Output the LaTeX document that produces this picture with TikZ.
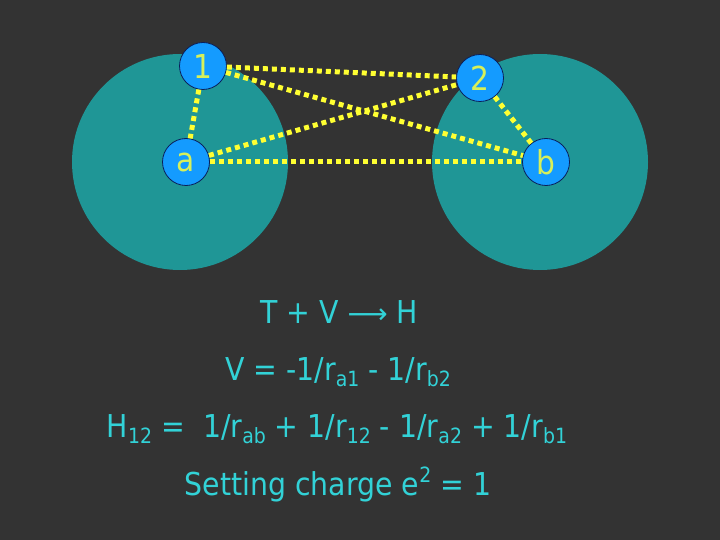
\documentclass[tikz,border=0pt]{standalone}
\usepackage{fontspec}
\setmainfont{DejaVu Sans}
\newfontfamily\eqfont{DejaVu Sans}[FakeStretch=0.9]
\newfontfamily\arrowfont{DejaVu Sans}
\definecolor{bg}{RGB}{51,51,51}
\definecolor{teal1}{RGB}{31,150,150}
\definecolor{blue1}{RGB}{20,155,255}
\definecolor{navy1}{RGB}{10,30,90}
\definecolor{lbl}{RGB}{215,240,90}
\definecolor{dotc}{RGB}{255,255,50}
\definecolor{txt}{RGB}{50,210,215}
\newcommand\lo[1]{\raisebox{-0.4ex}{\fontsize{21}{21}\selectfont #1}}
\newcommand\hi[1]{\raisebox{0.75ex}{\fontsize{21}{21}\selectfont #1}}
\tikzset{
  orbital/.style={circle, fill=teal1, draw=none, minimum size=216pt, inner sep=0pt},
  particle/.style={circle, fill=blue1, draw=navy1, line width=0.8pt, minimum size=47pt, inner sep=0pt, text=lbl, font=\eqfont\fontsize{33}{33}\selectfont},
  bond/.style={dotc, line width=5pt, dash pattern=on 5pt off 4pt},
  eq/.style={text=txt, anchor=base, inner sep=0pt, font=\eqfont\fontsize{31.5}{36}\selectfont}
}
\begin{document}
\begin{tikzpicture}[x=1pt,y=-1pt]
\fill[bg] (0,0) rectangle (720,540);
\useasboundingbox (0,0) rectangle (720,540);
\node[orbital] (A) at (180,162) {};
\node[orbital] (B) at (540,162) {};
\node[particle] (p1) at (203,66) {1};
\node[particle] (p2) at (480,78) {2};
\node[particle] (pa) at (186,162) {a};
\node[particle] (pb) at (546,162) {b};
\draw[bond] (p1) -- (p2);
\draw[bond] (p1) -- (pb);
\draw[bond] (pa) -- (p2);
\draw[bond] (pa) -- (pb);
\draw[bond] (p1) -- (pa);
\draw[bond] (p2) -- (pb);
\node[eq] (t1) at (339,323) {T + V {\arrowfont\fontsize{28}{28}\selectfont ⟶} H};
\node[eq] (t2) at (338,380) {V = -1/r\lo{a1} - 1/r\lo{b2}};
\node[eq] (t3) at (337,437) {H\lo{12} =\ \ 1/r\lo{ab} + 1/r\lo{12} - 1/r\lo{a2} + 1/r\lo{b1}};
\node[eq] (t4) at (338,495) {Setting charge e\hi{2} = 1};
\end{tikzpicture}
\end{document}
